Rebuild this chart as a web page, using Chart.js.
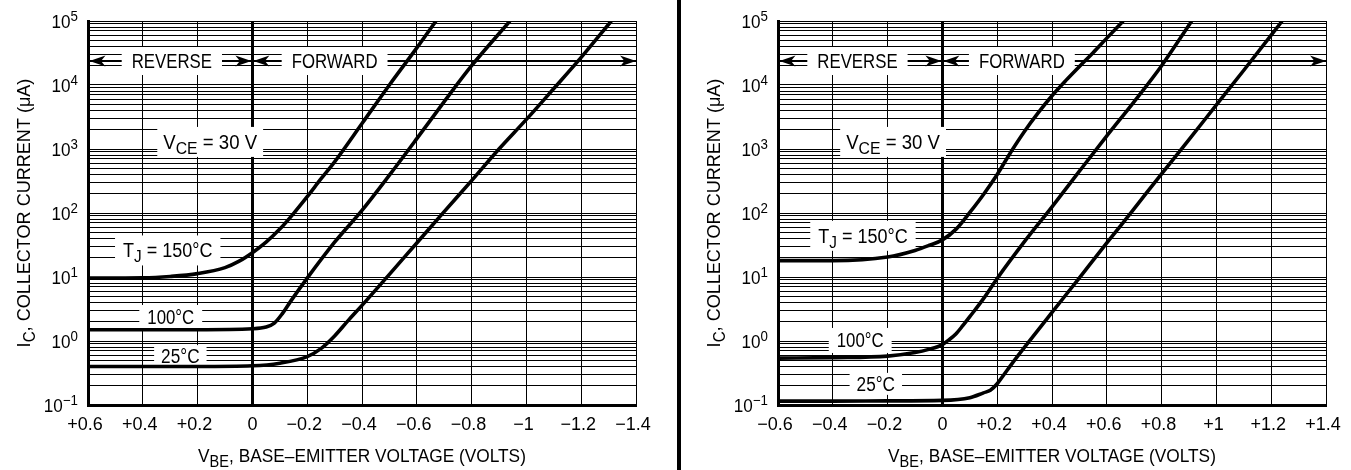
<!DOCTYPE html>
<html><head><meta charset="utf-8">
<script src="https://cdn.jsdelivr.net/npm/chart.js@4.4.0/dist/chart.umd.min.js"></script>
<style>
html,body{margin:0;padding:0;background:#fff;overflow:hidden}
#wrap{position:relative;width:1351px;height:470px;background:#fff}
.pane{position:absolute;top:0;height:470px}
#sep{position:absolute;left:677px;top:0;width:4px;height:470px;background:#000}
</style></head><body>
<div id="wrap">
<div class="pane" id="pL" style="left:0;width:677px"><canvas id="cL"></canvas></div>
<div id="sep"></div>
<div class="pane" id="pR" style="left:681px;width:670px"><canvas id="cR"></canvas></div>
</div>
<script>
// ---------- tick data ----------
const xTickValsL = [0.6, 0.4, 0.2, 0, -0.2, -0.4, -0.6, -0.8, -1.0, -1.2, -1.4];
const xTickLabelsL = ['+0.6','+0.4','+0.2','0','\u22120.2','\u22120.4','\u22120.6','\u22120.8','\u22121','\u22121.2','\u22121.4'];
const xTickValsR = [-0.6, -0.4, -0.2, 0, 0.2, 0.4, 0.6, 0.8, 1.0, 1.2, 1.4];
const xTickLabelsR = ['\u22120.6','\u22120.4','\u22120.2','0','+0.2','+0.4','+0.6','+0.8','+1','+1.2','+1.4'];
const yDecades = [-1, 0, 1, 2, 3, 4, 5];
const yDecadeLabels = ['\u22121','0','1','2','3','4','5'];
const yMinorSteps = [1, 2, 3, 4, 5, 6, 7, 8, 9];

// ---------- series data: left panel (VBE in volts, IC in uA) ----------
const vbeL150 = [0.6, 0.4, 0.3, 0.2, 0.1, 0.05, 0, -0.05, -0.1, -0.15, -0.2, -0.25, -0.3, -0.4, -0.5, -0.6, -0.67];
const icL150  = [9.6, 9.7, 10.2, 11.3, 14, 17.5, 24, 35, 56, 98, 180, 340, 630, 2500, 10000, 38000, 100000];
const vbeL100 = [0.6, 0.4, 0.2, 0, -0.05, -0.08, -0.11, -0.14, -0.2, -0.3, -0.4, -0.5, -0.6, -0.7, -0.8, -0.94];
const icL100  = [1.5, 1.5, 1.5, 1.55, 1.65, 1.9, 2.7, 4.2, 9.6, 35, 110, 390, 1450, 5500, 20000, 100000];
const vbeL25  = [0.6, 0.4, 0.2, 0, -0.1, -0.2, -0.25, -0.3, -0.35, -0.4, -0.5, -0.6, -0.7, -0.8, -0.9, -1.0, -1.1, -1.2, -1.31];
const icL25   = [0.4, 0.4, 0.4, 0.41, 0.45, 0.57, 0.76, 1.2, 2.1, 3.6, 11, 34, 105, 320, 1000, 2900, 8800, 27000, 100000];

// ---------- series data: right panel ----------
const vbeR150 = [-0.6, -0.4, -0.2, -0.1, -0.05, 0, 0.05, 0.1, 0.15, 0.2, 0.25, 0.3, 0.35, 0.4, 0.45, 0.5, 0.55, 0.6, 0.66];
const icR150  = [18, 18, 20.5, 26, 31, 38, 56, 102, 195, 400, 900, 1900, 3700, 6800, 11700, 19500, 32000, 54000, 100000];
const vbeR100 = [-0.6, -0.4, -0.2, -0.1, -0.05, 0, 0.025, 0.05, 0.075, 0.1, 0.15, 0.2, 0.3, 0.4, 0.5, 0.6, 0.7, 0.8, 0.91];
const icR100  = [0.54, 0.55, 0.58, 0.66, 0.74, 0.88, 1.05, 1.3, 1.75, 2.4, 4.6, 9.5, 36, 125, 450, 1600, 5500, 20000, 100000];
const vbeR25  = [-0.6, -0.4, -0.2, 0, 0.1, 0.15, 0.175, 0.2, 0.225, 0.25, 0.3, 0.4, 0.5, 0.6, 0.7, 0.8, 0.9, 1.0, 1.1, 1.2, 1.24];
const icR25   = [0.115, 0.115, 0.116, 0.118, 0.13, 0.155, 0.17, 0.215, 0.3, 0.42, 0.8, 2.8, 9.7, 34, 117, 410, 1400, 4900, 17000, 60000, 100000];

// ---------- annotation texts ----------
const arrowLevel = 23700;
const labelsL = [
  {t:[['REVERSE',20,0]], x:0.294, y:arrowLevel, sx:0.84, pad:10, h:28},
  {t:[['FORWARD',20,0]], x:-0.30, y:arrowLevel, sx:0.84, pad:10, h:28},
  {t:[['V',20,0],['CE',17,5],[' = 30 V',20,0]], x:0.154, y:1290, sx:0.93, pad:6, h:30},
  {t:[['T',20,0],['J',17,5],[' = 150\u00B0C',20,0]], x:0.309, y:26, sx:0.9, pad:8, h:30},
  {t:[['100\u00B0C',20,0]], x:0.298, y:2.33, sx:0.84, pad:8, h:25},
  {t:[['25\u00B0C',20,0]], x:0.263, y:0.58, sx:0.86, pad:7, h:22}
];
const labelsR = [
  {t:[['REVERSE',20,0]], x:-0.31, y:arrowLevel, sx:0.84, pad:10, h:28},
  {t:[['FORWARD',20,0]], x:0.29, y:arrowLevel, sx:0.84, pad:10, h:28},
  {t:[['V',20,0],['CE',17,5],[' = 30 V',20,0]], x:-0.18, y:1290, sx:0.93, pad:6, h:30},
  {t:[['T',20,0],['J',17,5],[' = 150\u00B0C',20,0]], x:-0.29, y:44, sx:0.9, pad:8, h:30},
  {t:[['100\u00B0C',20,0]], x:-0.30, y:1.02, sx:0.84, pad:8, h:25},
  {t:[['25\u00B0C',20,0]], x:-0.243, y:0.214, sx:0.86, pad:7, h:22}
];

const FONT = '"Liberation Sans", Arial, Helvetica, sans-serif';

function measure(ctx, parts) {
  let w = 0;
  for (const p of parts) { ctx.font = p[1] + 'px ' + FONT; w += ctx.measureText(p[0]).width; }
  return w;
}
function rich(ctx, parts, x, y, align, sx) {
  const tw = measure(ctx, parts) * sx;
  const x0 = align === 'center' ? x - tw / 2 : (align === 'right' ? x - tw : x);
  ctx.save();
  ctx.translate(x0, y);
  ctx.scale(sx, 1);
  ctx.textAlign = 'left';
  ctx.textBaseline = 'alphabetic';
  ctx.fillStyle = '#000';
  let cx = 0;
  for (const p of parts) {
    ctx.font = p[1] + 'px ' + FONT;
    ctx.fillText(p[0], cx, p[2] || 0);
    cx += ctx.measureText(p[0]).width;
  }
  ctx.restore();
  return tw;
}
function head(ctx, tx, ty, dir) {
  const L = 16, H = 5.5;
  ctx.beginPath();
  ctx.moveTo(tx, ty);
  ctx.lineTo(tx - dir * L, ty - H);
  ctx.lineTo(tx - dir * L * 0.72, ty);
  ctx.lineTo(tx - dir * L, ty + H);
  ctx.closePath();
  ctx.fill();
}

function makePlugin(labels, xVals, xLabels) {
  return {
    id: 'annot',
    beforeDatasetsDraw(chart) {
      const {ctx, chartArea: a, scales: {x, y}} = chart;
      ctx.save();
      // direction arrows
      const ay = Math.round(y.getPixelForValue(arrowLevel));
      const zx = x.getPixelForValue(0);
      ctx.strokeStyle = '#000'; ctx.fillStyle = '#000'; ctx.lineWidth = 2;
      ctx.beginPath(); ctx.moveTo(a.left, ay); ctx.lineTo(a.right, ay); ctx.stroke();
      head(ctx, a.left + 1.5, ay, -1);
      head(ctx, zx - 1, ay, 1);
      head(ctx, zx + 1, ay, -1);
      head(ctx, a.right, ay, 1);
      // boxes and texts
      for (const lb of labels) {
        const px = x.getPixelForValue(lb.x), py = y.getPixelForValue(lb.y);
        const tw = measure(ctx, lb.t) * lb.sx;
        const bw = tw + 2 * lb.pad;
        ctx.fillStyle = '#fff';
        ctx.fillRect(px - bw / 2, py - lb.h / 2, bw, lb.h);
        rich(ctx, lb.t, px, py + 7, 'center', lb.sx);
      }
      ctx.restore();
    },
    afterDraw(chart) {
      const {ctx, chartArea: a, scales: {x, y}} = chart;
      ctx.save();
      // y tick labels 10^n
      yDecades.forEach((e, i) => {
        const py = y.getPixelForValue(Math.pow(10, e));
        rich(ctx, [['10', 18, 0], [yDecadeLabels[i], 14, -7]], a.left - 10, py + 6.5, 'right', 0.95);
      });
      // x tick labels
      xVals.forEach((v, i) => {
        const px = x.getPixelForValue(v);
        const shift = xLabels[i] === '0' ? 0 : -3;
        rich(ctx, [[xLabels[i], 18, 0]], px + shift, a.bottom + 25, 'center', 1);
      });
      // x title
      rich(ctx, [['V', 19, 0], ['BE', 16, 5], [', BASE\u2013EMITTER VOLTAGE (VOLTS)', 19, 0]],
           (a.left + a.right) / 2, a.bottom + 57, 'center', 0.91);
      // y title
      ctx.save();
      ctx.translate(a.left - 58, (a.top + a.bottom) / 2);
      ctx.rotate(-Math.PI / 2);
      rich(ctx, [['I', 19, 0], ['C', 16, 5], [', COLLECTOR CURRENT (\u03BCA)', 19, 0]], 0, 0, 'center', 0.95);
      ctx.restore();
      ctx.restore();
    }
  };
}

function makeChart(id, o) {
  const yGrid = [];
  yDecades.forEach(e => {
    if (e < 5) yMinorSteps.forEach(m => yGrid.push(m * Math.pow(10, e)));
    else yGrid.push(Math.pow(10, e));
  });
  return new Chart(document.getElementById(id), {
    type: 'scatter',
    data: {
      datasets: o.series.map(s => ({
        data: s[0].map((v, i) => ({x: v, y: s[1][i]})),
        showLine: true, borderColor: '#000', borderWidth: 3.6,
        pointRadius: 0, pointHoverRadius: 0, fill: false,
        cubicInterpolationMode: 'monotone'
      }))
    },
    options: {
      responsive: true, maintainAspectRatio: false, animation: false,
      events: [],
      layout: {padding: o.pad},
      plugins: {legend: {display: false}, tooltip: {enabled: false}},
      scales: {
        x: {
          type: 'linear', min: o.xMin, max: o.xMax, reverse: o.reverse,
          afterBuildTicks: s => { s.ticks = o.xVals.map(v => ({value: v})); },
          ticks: {display: false},
          grid: {color: '#000', drawTicks: false,
                 lineWidth: c => (c.tick && Math.abs(c.tick.value) < 1e-9) ? 3 : 1},
          border: {display: true, color: '#000', width: 3}
        },
        y: {
          type: 'logarithmic', min: 0.1, max: 1e5,
          afterBuildTicks: s => { s.ticks = yGrid.map(v => ({value: v})); },
          ticks: {display: false},
          grid: {color: '#000', drawTicks: false, lineWidth: 1},
          border: {display: true, color: '#000', width: 3}
        }
      }
    },
    plugins: [makePlugin(o.labels, o.xVals, o.xLabels)]
  });
}

makeChart('cL', {
  xMin: -1.4, xMax: 0.6, reverse: true,
  xVals: xTickValsL, xLabels: xTickLabelsL,
  series: [[vbeL150, icL150], [vbeL100, icL100], [vbeL25, icL25]],
  labels: labelsL,
  pad: {left: 88, right: 41, top: 21, bottom: 65}
});
makeChart('cR', {
  xMin: -0.6, xMax: 1.4, reverse: false,
  xVals: xTickValsR, xLabels: xTickLabelsR,
  series: [[vbeR150, icR150], [vbeR100, icR100], [vbeR25, icR25]],
  labels: labelsR,
  pad: {left: 97, right: 25, top: 21, bottom: 65}
});
</script>
</body></html>
